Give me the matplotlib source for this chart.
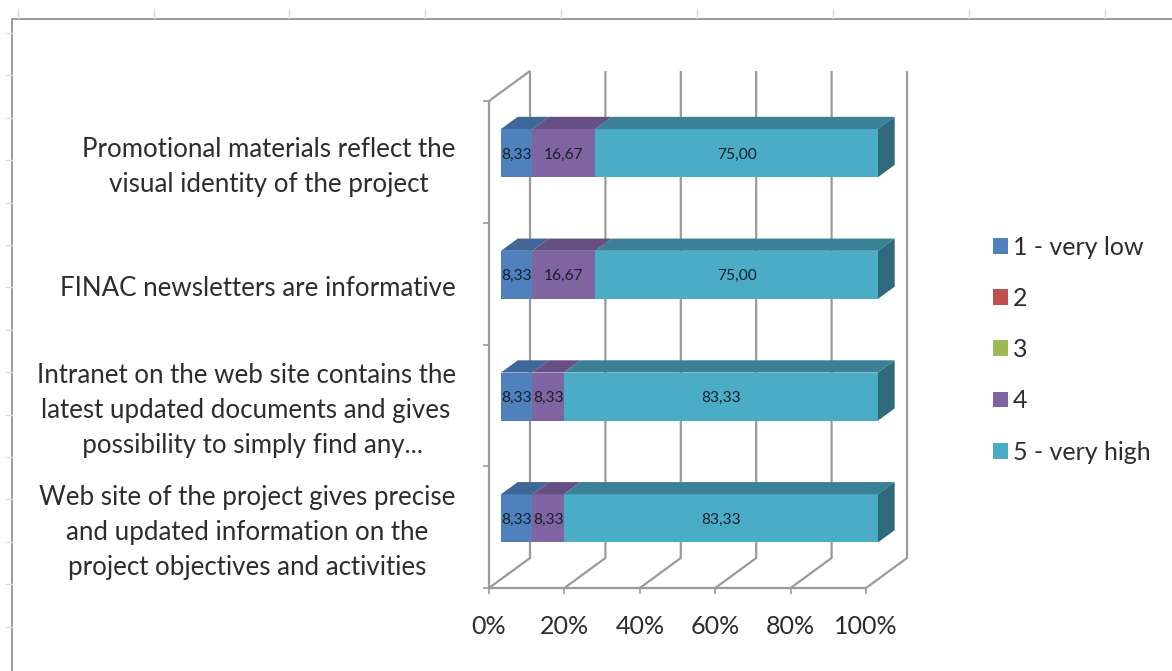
import matplotlib
matplotlib.use("Agg")
import matplotlib.pyplot as plt
from matplotlib.patches import Patch

plt.rcParams['font.family'] = ['Lato', 'DejaVu Sans']

categories = [
    "Web site of the project gives precise\nand updated information on the\nproject objectives and activities",
    "Intranet on the web site contains the\nlatest updated documents and gives\n  possibility to simply find any...",
    "FINAC newsletters are informative",
    "Promotional materials reflect the\nvisual identity of the project",
]
series_names = ["1 - very low", "2", "3", "4", "5 - very high"]
very_low = [8.33, 8.33, 8.33, 8.33]
level_2 = [0, 0, 0, 0]
level_3 = [0, 0, 0, 0]
level_4 = [8.33, 8.33, 16.67, 16.67]
very_high = [83.33, 83.33, 75.00, 75.00]
series = [very_low, level_2, level_3, level_4, very_high]
xticks = [0, 20, 40, 60, 80, 100]

colors = ["#4F81BD", "#C0504D", "#9BBB59", "#8064A2", "#4BACC6"]
tops = ["#3F6797", "#9A403E", "#7C9647", "#664F82", "#3A8097"]
side = "#2F6A7C"
GRID = "#9a9a9a"
TXT = "#2c2c2c"

W, H = 1172, 671
fig = plt.figure(figsize=(W / 100, H / 100), dpi=100, facecolor="white")

# window furniture of the screenshot
bg = fig.add_axes([0, 0, 1, 1], zorder=-1)
bg.set_xlim(0, W); bg.set_ylim(H, 0); bg.axis("off")
bg.plot([12, 12], [19, H], color="#9a9a9a", lw=1.4)
bg.plot([12, W], [19, 19], color="#9a9a9a", lw=1.4)
for px in [18, 154, 289, 425, 561, 697, 833, 969, 1105]:
    bg.plot([px, px], [9, 18], color="#dcdcdc", lw=1)
for k in range(15):
    py = 33 + k * 42.4
    bg.plot([6, 12], [py, py], color="#dcdcdc", lw=1)

# plot axes: the front floor edge and the front of the left wall
L, R, B, T = 489, 866, 588, 101
ax = fig.add_axes([L / W, 1 - B / H, (R - L) / W, (B - T) / H])
ax.set_xlim(0, 100); ax.set_ylim(0, 4)
for s in ax.spines.values():
    s.set_visible(False)
ax.patch.set_alpha(0)

DX, DY = 10.875, 0.2465   # shift of the back wall in data units


def proj(x, y, d):
    return x + DX * d, y + DY * d


def line(x, y, d, **kw):
    pts = [proj(a, b, c) for a, b, c in zip(x, y, d)]
    ax.plot([p[0] for p in pts], [p[1] for p in pts], color=GRID, lw=1.6,
            clip_on=False, zorder=1, solid_capstyle="butt", **kw)


for v in xticks:
    line([v, v, v], [0, 0, 4], [0, 1, 1])
line([0, 100], [0, 0], [0, 0])
line([0, 0], [0, 4], [0, 0])
line([0, 0], [4, 4], [0, 1])

D0, D1 = 0.293, 0.70
BAR_H = 0.395
for i in range(len(categories)):
    total_left = 0.0
    for vals, c, tc in zip(series, colors, tops):
        v = vals[i]
        if v == 0:
            continue
        x0, yc = proj(total_left, i + 0.5, D0)
        ax.barh(yc, v, left=x0, height=BAR_H, color=c, zorder=3, clip_on=False)
        y1 = i + 0.5 + BAR_H / 2
        quad = [proj(total_left, y1, D0), proj(total_left + v, y1, D0),
                proj(total_left + v, y1, D1), proj(total_left, y1, D1)]
        ax.fill([p[0] for p in quad], [p[1] for p in quad], color=tc, lw=0,
                zorder=3, clip_on=False)
        ax.text(x0 + v / 2, yc - 0.012, f"{v:.2f}".replace(".", ","), ha="center",
                va="center", fontsize=11.2, color="#15202e", zorder=5)
        total_left += v
    y0, y1 = i + 0.5 - BAR_H / 2, i + 0.5 + BAR_H / 2
    quad = [proj(total_left, y0, D0), proj(total_left, y1, D0),
            proj(total_left, y1, D1), proj(total_left, y0, D1)]
    ax.fill([p[0] for p in quad], [p[1] for p in quad], color=side, lw=0,
            zorder=3, clip_on=False)

ax.set_xticks(xticks)
ax.set_xticklabels([f"{v}%" for v in xticks], fontsize=18, color=TXT)
ax.tick_params(axis="x", length=4, width=1.2, color=GRID, pad=15.5)
ax.set_yticks([0, 1, 2, 3, 4])
ax.set_yticklabels([])
ax.tick_params(axis="y", which="major", length=4, width=1.2, color=GRID)
label_shift = [0.02, 0.02, -0.02, 0.02]
ax.set_yticks([i + 0.5 + label_shift[i] for i in range(4)], minor=True)
ax.set_yticklabels(categories, minor=True, fontsize=18.6, color=TXT,
                   multialignment="center", linespacing=1.5)
ax.tick_params(axis="y", which="minor", length=0, pad=24)

handles = [Patch(facecolor=c, edgecolor="none") for c in colors]
fig.legend(handles, series_names, loc="center left",
           bbox_to_anchor=(993 / W, 1 - 349.5 / H), frameon=False, fontsize=18,
           labelcolor=TXT, handlelength=0.6, handleheight=0.6,
           handletextpad=0.2, labelspacing=1.13, borderpad=0, borderaxespad=0)

fig.savefig("out.png", dpi=100)
